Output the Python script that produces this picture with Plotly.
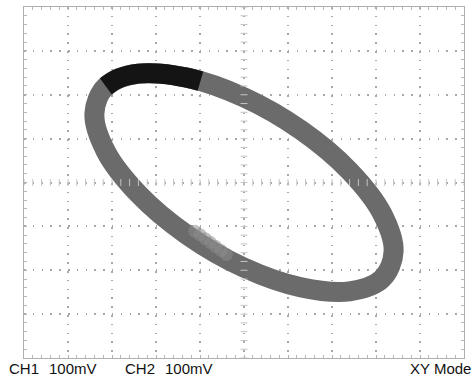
import numpy as np
import plotly.graph_objects as go

loop_x = [3.40, 3.14, 2.40, 1.30, 0.00, -1.30, -2.40, -3.14, -3.40, -3.14, -2.40, -1.30, 0.00, 1.30, 2.40, 3.14, 3.40]
loop_y = [-1.57, -2.19, -2.48, -2.39, -1.94, -1.19, -0.26, 0.71, 1.57, 2.19, 2.48, 2.39, 1.94, 1.19, 0.26, -0.71, -1.57]

# darker (more intense) part at the top of the loop
dark_x = [-3.14, -2.83, -2.40, -1.89, -1.30, -0.99]
dark_y = [2.19, 2.38, 2.48, 2.48, 2.39, 2.31]

# lighter patch on the lower-left branch
light_x = [-0.40, -0.52, -0.64, -0.76, -0.88, -1.00, -1.12]
light_y = [-1.64, -1.55, -1.46, -1.37, -1.28, -1.19, -1.11]

labels = ["CH1", "100mV", "CH2", "100mV", "XY Mode"]

band = "#6b6b6b"
gridc = "#a8a8a8"

fig = go.Figure()
fig.add_trace(go.Scatter(x=loop_x, y=loop_y, mode="lines",
                         line=dict(color=band, width=20, shape="spline", smoothing=1.0),
                         hoverinfo="skip"))
fig.add_trace(go.Scatter(x=dark_x, y=dark_y, mode="lines",
                         line=dict(color="#141414", width=20, shape="spline", smoothing=1.0),
                         hoverinfo="skip"))
fig.add_trace(go.Scatter(x=light_x, y=light_y, mode="markers",
                         marker=dict(color="#8c8c8c", size=13, opacity=0.55, line=dict(width=0)),
                         hoverinfo="skip"))

# centre cross-hair graduation (0.2 div)
tx = np.round(np.arange(-5, 5.001, 0.2), 2)
ty = np.round(np.arange(-4, 4.001, 0.2), 2)
fig.add_trace(go.Scatter(x=tx, y=np.zeros_like(tx), mode="markers",
                         marker=dict(symbol="line-ns", size=5, line=dict(color="#c4c4c4", width=1)),
                         hoverinfo="skip"))
fig.add_trace(go.Scatter(x=np.zeros_like(ty), y=ty, mode="markers",
                         marker=dict(symbol="line-ew", size=5, line=dict(color="#c4c4c4", width=1)),
                         hoverinfo="skip"))

axis_common = dict(
    showgrid=True, gridcolor=gridc, gridwidth=1.5, griddash="1.5px,7.3px",
    zeroline=False, showline=True, linecolor="#b0b0b0", linewidth=1, mirror="allticks",
    ticks="inside", ticklen=3, tickcolor="#b0b0b0", showticklabels=False, dtick=1,
    minor=dict(dtick=0.2, ticks="inside", ticklen=3, tickcolor="#b8b8b8", showgrid=False),
    fixedrange=True,
)
fig.update_xaxes(range=[-5, 5], **axis_common)
fig.update_yaxes(range=[-4, 4], **axis_common)

font = dict(family="Liberation Sans, Arial, sans-serif", size=15, color="#111111")
L, W, T, H = 24, 440, 7, 351
ann = [
    (7, labels[0], "left"),
    (47, labels[1], "left"),
    (123, labels[2], "left"),
    (163, labels[3], "left"),
    (473, labels[4], "right"),
]
for px, txt, al in ann:
    fig.add_annotation(x=(px - L) / W, y=(T + H - 368) / H, xref="paper", yref="paper",
                       text=txt, showarrow=False, xanchor=al, yanchor="middle",
                       font=font)

fig.update_layout(
    width=473, height=381,
    margin=dict(l=24, r=9, t=7, b=23),
    paper_bgcolor="white", plot_bgcolor="white",
    showlegend=False,
)
fig.write_html("out.html")
